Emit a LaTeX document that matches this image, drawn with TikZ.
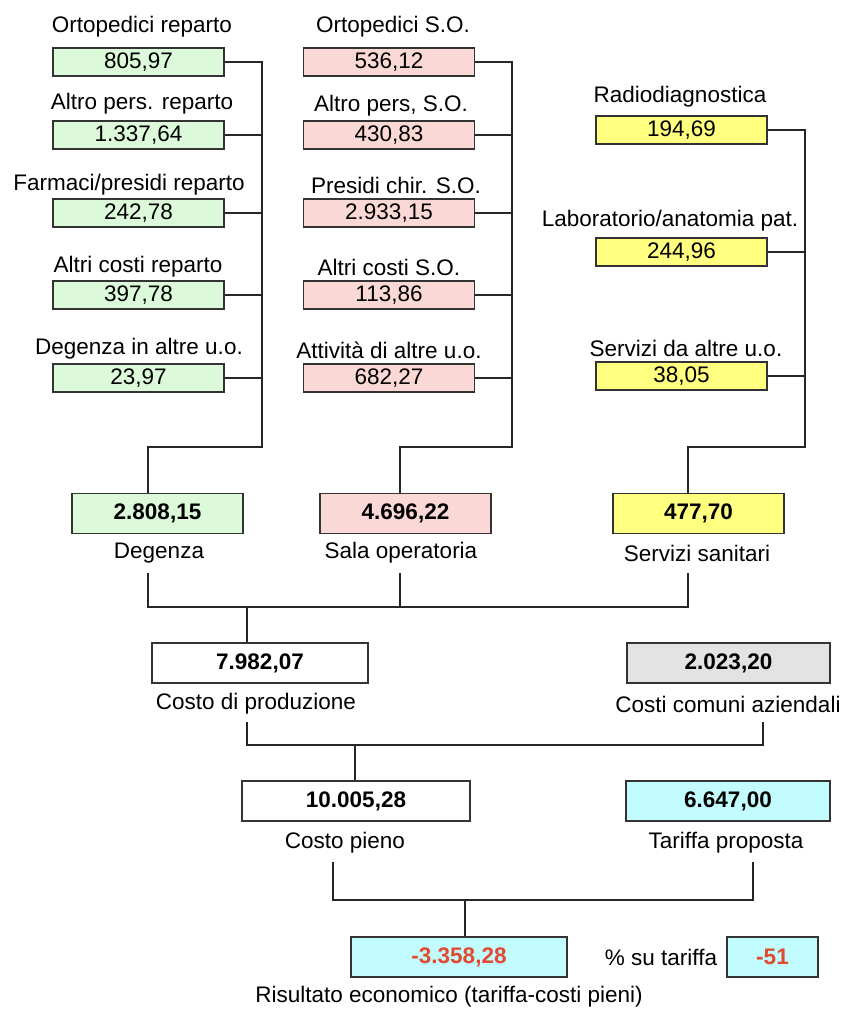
\documentclass[tikz,border=0pt]{standalone}
\usepackage{fontspec}
\setmainfont{Liberation Sans}
\definecolor{verde}{HTML}{DCFADA}
\definecolor{rosa}{HTML}{F9D8D6}
\definecolor{giallo}{HTML}{FFFF80}
\definecolor{azzurro}{HTML}{C2FCFF}
\definecolor{grigio}{HTML}{E3E3E3}
\definecolor{rosso}{HTML}{E04A2F}
\tikzset{
  voce/.style={draw=black!80, line width=1.6pt, minimum width=171pt, minimum height=28pt, inner sep=0pt},
  totale/.style={draw=black!80, line width=1.6pt, minimum height=40pt, inner sep=0pt, font=\fontsize{22.5}{26}\selectfont\bfseries},
  linea/.style={line width=1.3pt, black!85}
}
\begin{document}
\begin{tikzpicture}[x=1pt,y=-1pt,font=\fontsize{22.5}{26}\selectfont]
        \useasboundingbox (0,0) rectangle (845,1010);
        \node (lg1) at (142,27) {Ortopedici reparto};
        \node[voce,fill=verde] (g1) at (138.5,62) {805,97};
        \node (lg2) at (142,104) {Altro pers. reparto};
        \node[voce,fill=verde] (g2) at (138.5,135) {1.337,64};
        \node (lg3) at (129,185) {Farmaci/presidi reparto};
        \node[voce,fill=verde] (g3) at (138.5,213) {242,78};
        \node (lg4) at (138,267) {Altri costi reparto};
        \node[voce,fill=verde] (g4) at (138.5,295) {397,78};
        \node (lg5) at (139,349) {Degenza in altre u.o.};
        \node[voce,fill=verde] (g5) at (138.5,378) {23,97};

        \node (lp1) at (393,27) {Ortopedici S.O.};
        \node[voce,fill=rosa] (p1) at (389,62) {536,12};
        \node (lp2) at (391,106) {Altro pers, S.O.};
        \node[voce,fill=rosa] (p2) at (389,135) {430,83};
        \node (lp3) at (396,185) {Presidi chir. S.O.};
        \node[voce,fill=rosa] (p3) at (389,213) {2.933,15};
        \node (lp4) at (389,267) {Altri costi S.O.};
        \node[voce,fill=rosa] (p4) at (389,295) {113,86};
        \node (lp5) at (389,350) {Attività di altre u.o.};
        \node[voce,fill=rosa] (p5) at (389,378) {682,27};

        \node (ly1) at (680,97) {Radiodiagnostica};
        \node[voce,fill=giallo] (y1) at (681.5,130) {194,69};
        \node (ly2) at (670,221) {Laboratorio/anatomia pat.};
        \node[voce,fill=giallo] (y2) at (681.5,252) {244,96};
        \node (ly3) at (686,348) {Servizi da altre u.o.};
        \node[voce,fill=giallo] (y3) at (681.5,376) {38,05};

        \node[totale,fill=verde,minimum width=171pt] (deg) at (157.5,513.5) {2.808,15};
        \node (ldeg) at (159,553) {Degenza};
        \node[totale,fill=rosa,minimum width=171pt] (sal) at (405.5,513.5) {4.696,22};
        \node (lsal) at (401,553) {Sala operatoria};
        \node[totale,fill=giallo,minimum width=171pt] (ser) at (698.5,513.5) {477,70};
        \node (lser) at (697,553) {Servizi sanitari};

        \node[totale,fill=white,minimum width=216pt] (prod) at (260,663) {7.982,07};
        \node (lprod) at (256,704) {Costo di produzione};
        \node[totale,fill=grigio,minimum width=203pt] (com) at (728.5,663) {2.023,20};
        \node (lcom) at (728,704) {Costi comuni aziendali};

        \node[totale,fill=white,minimum width=228pt] (pieno) at (356,801) {10.005,28};
        \node (lpieno) at (345,843) {Costo pieno};
        \node[totale,fill=azzurro,minimum width=204pt] (tar) at (728,801) {6.647,00};
        \node (ltar) at (726,843) {Tariffa proposta};

        \node[totale,fill=azzurro,minimum width=216pt,text=rosso] (ris) at (459,957) {-3.358,28};
        \node (lris) at (449,997) {Risultato economico (tariffa-costi pieni)};
        \node (lperc) at (661,957) {\% su tariffa};
        \node[totale,fill=azzurro,minimum width=91pt,text=rosso] (perc) at (772.5,957) {-51};

        \coordinate (gb) at (262,447);
        \coordinate (pb) at (512,447);
        \coordinate (yb) at (805,447);
        \draw[linea] (g1.east) -| (gb) -| ([xshift=-9.5pt]deg.north);
        \draw[linea] (g2.east) -- (g2.east -| gb);
        \draw[linea] (g3.east) -- (g3.east -| gb);
        \draw[linea] (g4.east) -- (g4.east -| gb);
        \draw[linea] (g5.east) -- (g5.east -| gb);
        \draw[linea] (p1.east) -| (pb) -| ([xshift=-5.5pt]sal.north);
        \draw[linea] (p2.east) -- (p2.east -| pb);
        \draw[linea] (p3.east) -- (p3.east -| pb);
        \draw[linea] (p4.east) -- (p4.east -| pb);
        \draw[linea] (p5.east) -- (p5.east -| pb);
        \draw[linea] (y1.east) -| (yb) -| ([xshift=-10.5pt]ser.north);
        \draw[linea] (y2.east) -- (y2.east -| yb);
        \draw[linea] (y3.east) -- (y3.east -| yb);

        \coordinate (cde) at (148,573);
        \coordinate (cso) at (400,573);
        \coordinate (css) at (688,573);
        \coordinate (jprod) at (247,607);
        \draw[linea] (cde) |- (jprod) -- (jprod |- prod.north);
        \draw[linea] (css) |- (jprod);
        \draw[linea] (cso) -- (cso |- jprod);

        \coordinate (cpr) at (247,722);
        \coordinate (ccc) at (763,722);
        \coordinate (jpieno) at (355,745);
        \draw[linea] (cpr) |- (jpieno) -- (jpieno |- pieno.north);
        \draw[linea] (ccc) |- (jpieno);

        \coordinate (cpi) at (333,862);
        \coordinate (cta) at (753,862);
        \coordinate (jris) at (465,900);
        \draw[linea] (cpi) |- (jris) -- (jris |- ris.north);
        \draw[linea] (cta) |- (jris);
    \end{tikzpicture}
\end{document}
